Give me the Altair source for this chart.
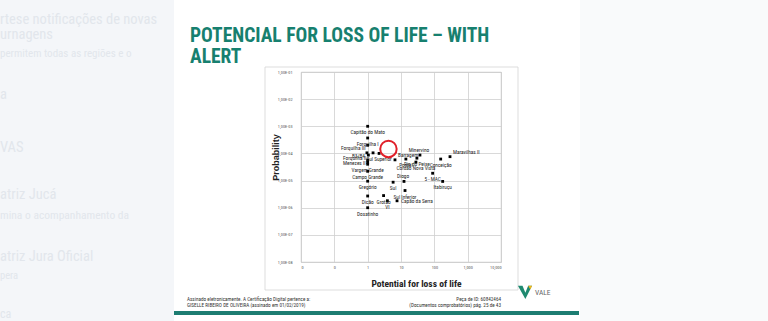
import altair as alt
import pandas as pd

NARROW = "Roboto Condensed, Liberation Sans, Arial, sans-serif"
REGULAR = "Liberation Sans, Arial, sans-serif"

# ---------------- data ----------------
dam_names = [
    "Capitão do Mato", "Forquilha I", "Forquilha III", "B3/B4", "Forquilha II",
    "Menezes II", "", "Vargem Grande", "Campo Grande", "Gregório", "Dicão",
    "Dosatinho", " ", "Sul Superior", "Barragem", "Pontal", "Rio do Peixe",
    "Minervino", "Cordão Nova Vista", "Conceição", "Maravilhas II", "5 - MAC",
    "Itabiruçu", "Diogo", "Sul", "Sul Inferior", "Capão da Serra", "Grotão", "VI",
]
loss_of_life = [
    1, 1, 1, 0.95, 1.05,
    1, 1, 1, 1, 1, 1,
    1, 1.45, 2.2, 6.6, 14, 30,
    37, 28, 155, 295, 89,
    178, 12.3, 5.8, 13.2, 7.6, 3.0, 3.9,
]
probability = [
    1.0e-3, 3.7e-4, 2.0e-4, 1.05e-4, 8.7e-5,
    5.7e-5, 4.7e-5, 4.0e-5, 2.2e-5, 9.5e-6, 2.7e-6,
    1.0e-6, 1.05e-4, 1.0e-4, 5.8e-5, 6.2e-5, 6.7e-5,
    8.7e-5, 4.8e-5, 6.2e-5, 7.6e-5, 1.86e-5,
    9.3e-6, 9.3e-6, 8.7e-6, 4.3e-6, 1.8e-6, 2.8e-6, 1.8e-6,
]
# the highlighted (circled) dam
alert_loss = [4.2]
alert_prob = [2.05e-4]

x_ticks = [0.01, 0.1, 1, 10, 100, 1000, 10000]
y_ticks = [1e-8, 1e-7, 1e-6, 1e-5, 1e-4, 1e-3, 1e-2, 1e-1]

title_lines = ["POTENCIAL FOR LOSS OF LIFE – WITH", "ALERT"]
x_title = "Potential for loss of life"
y_title = "Probability"

# label placement groups
labels_below = ["Capitão do Mato", "Forquilha I", "Vargem Grande", "Campo Grande",
                "Gregório", "Dicão", "Dosatinho", "Sul Superior", "Pontal",
                "Rio do Peixe", "Cordão Nova Vista", "Conceição", "5 - MAC",
                "Itabiruçu", "Sul", "Sul Inferior", "Grotão", "VI"]
labels_above = ["Minervino", "Diogo"]
labels_left = ["Forquilha III", "B3/B4", "Forquilha II", "Menezes II"]
labels_right = ["Capão da Serra"]
labels_upright = ["Maravilhas II", "Barragem"]

df = pd.DataFrame({"name": dam_names, "loss": loss_of_life, "prob": probability})
alert_df = pd.DataFrame({"loss": alert_loss, "prob": alert_prob})
one = pd.DataFrame({"k": [0]})

xs = alt.Scale(type="log", domain=[0.01, 10000], nice=False)
ys = alt.Scale(type="log", domain=[1e-8, 0.1], nice=False)

x_axis = alt.Axis(
    values=x_ticks, labelExpr="format(datum.value, ',.0f')",
    grid=True, ticks=False, domain=False,
    labelFont=NARROW, labelFontSize=4.3, labelColor="#555555", labelPadding=3,
    title=x_title, titleFont=NARROW, titleFontSize=9.5, titleFontWeight="bold",
    titleColor="#222222", titleX=115, titleY=21, titleAlign="center",
    titleBaseline="middle",
)
y_axis = alt.Axis(
    values=y_ticks,
    labelExpr="'1,00E-0' + round(-log(datum.value) / LN10)",
    grid=True, ticks=False, domain=False,
    labelFont=NARROW, labelFontSize=4.3, labelColor="#555555", labelPadding=9,
    title=y_title, titleFont=REGULAR, titleFontSize=9, titleFontWeight="bold",
    titleColor="#222222", titleX=-26, titleY=85, titleAlign="center",
    titleBaseline="middle", titleAngle=-90,
)

X = alt.X("loss:Q", scale=xs, axis=x_axis)
Y = alt.Y("prob:Q", scale=ys, axis=y_axis)


def txt(s, x, y, size, color, weight="normal", font=NARROW, align="left",
        baseline="alphabetic"):
    return alt.Chart(one).mark_text(
        text=s, fontSize=size, color=color, fontWeight=weight, font=font,
        align=align, baseline=baseline,
    ).encode(x=alt.value(x), y=alt.value(y))


def box(x1, x2, y1, y2, fill=None, stroke=None, sw=1):
    kw = {"fill": fill if fill is not None else "transparent"}
    if stroke is not None:
        kw["stroke"] = stroke
        kw["strokeWidth"] = sw
    return alt.Chart(one).mark_rect(**kw).encode(
        x=alt.value(x1), x2=alt.value(x2), y=alt.value(y1), y2=alt.value(y2))


# plot origin is at page (301, 72)
side_left = box(-301, -127, -72, 249, fill="#f4f6f9")
side_right = box(279, 467, -72, 249, fill="#f9fafb")

faint = "#e2e6ec"
faint_texts = [
    txt("rtese notificações de novas", -301, -48, 14.5, faint),
    txt("urnagens", -301, -33, 14.5, faint),
    txt("permitem todas as regiões e o", -301, -15, 11, faint),
    txt("a", -301, 27, 14.5, faint),
    txt("VAS", -301, 80, 14.5, faint),
    txt("atriz Jucá", -301, 127, 14.5, faint),
    txt("mina o acompanhamento da", -301, 147, 11.5, faint),
    txt("atriz Jura Oficial", -301, 189, 14.5, faint),
    txt("pera", -301, 207, 10.5, faint),
    txt("ca", -301, 246, 12, faint),
]

chart_box = box(-36, 217, -5, 218, stroke="#d4d4d4", sw=0.8)

points = alt.Chart(df).mark_square(size=8, color="#000000", opacity=1).encode(x=X, y=Y)


def labels(group, align, dx, dy):
    return alt.Chart(df).transform_filter(
        alt.FieldOneOfPredicate(field="name", oneOf=group)
    ).mark_text(
        font=NARROW, fontSize=5.3, color="#1e1e1e", align=align,
        baseline="middle", dx=dx, dy=dy,
    ).encode(x=X, y=Y, text="name:N")


lab_layers = [
    labels(labels_below, "center", 0, 6),
    labels(labels_above, "center", -1, -5),
    labels(labels_left, "right", -2, 3),
    labels(labels_right, "left", 4, 0),
    labels(labels_upright, "left", 3, -5),
]

alert = alt.Chart(alert_df).mark_point(
    shape="circle", size=270, filled=False, color="#e0202a", strokeWidth=2,
    yOffset=4, opacity=1,
).encode(x=alt.X("loss:Q", scale=xs), y=alt.Y("prob:Q", scale=ys))

teal = "#17806f"
title1 = txt(title_lines[0], -111, -30, 19.5, teal, weight="bold")
title2 = txt(title_lines[1], -111, -9, 19.5, teal, weight="bold")

foot = "#333333"
footer = [
    txt("Assinado eletronicamente. A Certificação Digital pertence a:", -114, 229, 5.2, foot),
    txt("GISELLE RIBEIRO DE OLIVEIRA (assinado em 01/02/2019)", -114, 235, 5.2, foot),
    txt("Peça de ID: 60842464", 200, 229, 5.2, foot, align="right"),
    txt("(Documentos comprobatórios)   pág. 25 de 43", 200, 235, 5.2, foot, align="right"),
]
green_bar = box(-127, 278, 239, 243, fill="#1d7d72")

logo_green = alt.Chart(one).mark_point(
    shape="M-1,-0.9 L-0.35,-0.9 L0.05,0.1 L0.45,-0.9 L1,-0.9 L0.05,1 Z",
    size=200, filled=True, color="#1f8a70", opacity=1,
).encode(x=alt.value(224), y=alt.value(220))
logo_yellow = alt.Chart(one).mark_point(
    shape="M0.45,-0.9 L1,-0.9 L0.75,-0.35 Z",
    size=200, filled=True, color="#f2b61c", opacity=1,
).encode(x=alt.value(224), y=alt.value(220))
logo_text = txt("VALE", 234, 223, 7.5, "#666666")

chart = alt.layer(
    side_left, side_right, *faint_texts, chart_box,
    points, *lab_layers, alert, title1, title2, *footer, green_bar,
    logo_green, logo_yellow, logo_text,
).properties(
    width=200, height=190,
    padding={"left": 301, "top": 72, "right": 267, "bottom": 59},
    autosize="none",
    background="#ffffff",
).configure_view(
    stroke="#b5b5b5", strokeWidth=0.8, fill="#ffffff",
).configure_axis(
    gridColor="#cfcfcf", gridWidth=0.8,
)

chart.save("out.html", embed_options={"renderer": "svg", "actions": False})
